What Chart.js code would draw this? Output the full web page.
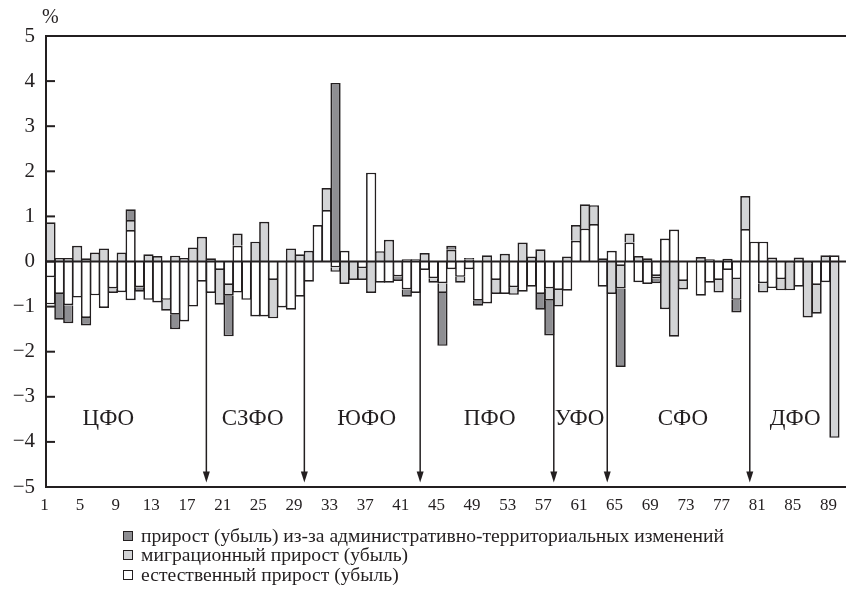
<!DOCTYPE html>
<html lang="ru">
<head>
<meta charset="utf-8">
<script src="https://cdn.jsdelivr.net/npm/chart.js@4.4.0/dist/chart.umd.min.js"></script>
<style>
    html, body { margin: 0; padding: 0; background: #fff; }
    #wrap { position: relative; width: 848px; height: 597px; }
    #chart { position: absolute; left: 0; top: 0; }
    #legend {
        position: absolute; left: 123px; top: 526px;
        font-family: "Liberation Serif", "DejaVu Serif", serif;
        font-size: 19.6px; color: #231f20;
    }
    .row { display: flex; align-items: center; height: 19.5px; white-space: nowrap; }
    .box { width: 8px; height: 8px; border: 1.5px solid #231f20; margin-right: 8px; flex: none; }
</style>
</head>
<body>
<div id="wrap">
    <canvas id="chart" width="848" height="597"></canvas>
    <div id="legend"></div>
</div>
<script>
// ---------- данные (оценены по рисунку) ----------

// номера субъектов РФ
const regions = [
    1, 2, 3, 4, 5, 6, 7, 8, 9, 10, 11, 12, 13, 14, 15, 16, 17, 18, 19, 20,
    21, 22, 23, 24, 25, 26, 27, 28, 29, 30, 31, 32, 33, 34, 35, 36, 37, 38, 39, 40,
    41, 42, 43, 44, 45, 46, 47, 48, 49, 50, 51, 52, 53, 54, 55, 56, 57, 58, 59, 60,
    61, 62, 63, 64, 65, 66, 67, 68, 69, 70, 71, 72, 73, 74, 75, 76, 77, 78, 79, 80,
    81, 82, 83, 84, 85, 86, 87, 88, 89
];
const xTicks = [1, 5, 9, 13, 17, 21, 25, 29, 33, 37, 41, 45, 49, 53, 57, 61, 65, 69, 73, 77, 81, 85, 89];
const yTicks = [-5, -4, -3, -2, -1, 0, 1, 2, 3, 4, 5];

// естественный прирост (убыль), %
const natural = [
    -0.35, -0.72, -0.97, -0.80, -1.25, -0.75, -1.03, -0.60, -0.68, 0.70,
    -0.57, -0.85, -0.91, -0.85, -1.18, -1.33, -1.00, -0.45, -0.70, -0.19,
    -0.52, 0.35, -0.85, -1.22, -1.22, -0.41, -1.02, -1.07, -0.78, -0.45,
    0.81, 1.14, -0.13, 0.24, 0, -0.15, 1.97, -0.47, -0.47, -0.33,
    -0.62, -0.70, -0.19, -0.37, -0.48, -0.17, -0.34, -0.17, -0.87, -0.93,
    -0.41, -0.72, -0.57, -0.67, -0.56, -0.72, -0.60, -0.63, -0.65, 0.46,
    0.73, 0.83, -0.56, 0.24, -0.10, 0.42, -0.46, -0.50, -0.32, 0.51,
    0.71, -0.43, 0, -0.76, -0.47, -0.41, -0.19, -0.39, 0.72, 0.44,
    0.44, -0.59, -0.39, -0.04, -0.56, -0.04, -0.52, -0.46, 0.14
];
// второй белый отрезок (там, где белый столбик есть по обе стороны от нуля)
const naturalExtra = [
    -0.60, 0, 0, 0, 0, 0, 0, 0, 0, -0.86,
    0, 0, 0, 0, 0, 0, 0, 0, 0, 0,
    0, -0.69, 0, 0, 0, 0, 0, 0, 0, 0,
    0, 0, 0, 0, 0, 0, 0, 0, 0, 0,
    0, 0, 0, 0, 0, 0, 0, 0, 0, 0,
    0, 0, 0, 0, 0, 0, 0, 0, 0, 0,
    0, 0, 0, 0, 0, 0, 0, 0, 0, 0,
    0, 0, 0, 0, 0, 0, 0, 0, 0, 0,
    -0.48, 0, 0, 0, 0, 0, 0, 0, 0
];
// миграционный прирост (убыль), %
const migration = [
    0.87, 0.08, 0.08, 0.35, 0.07, 0.20, 0.29, -0.10, 0.20, 0.22,
    0, 0.16, 0.12, -0.24, 0.13, 0.08, 0.31, 0.55, 0.07, -0.77,
    -0.24, 0.27, 0, 0.44, 0.88, -0.85, 0, 0.29, 0.16, 0.24,
    0, 0.49, -0.10, -0.50, -0.41, -0.26, -0.70, 0.23, 0.48, 0,
    0.05, 0.05, 0.19, -0.10, -0.22, 0.26, -0.13, 0.04, 0, 0.14,
    -0.31, 0.17, -0.17, 0.42, 0.11, 0.27, -0.27, -0.37, 0.11, 0.35,
    0.54, 0.42, 0.07, -0.72, -0.50, 0.20, 0.12, 0.07, -0.05, -1.06,
    -1.67, -0.19, 0, 0.10, 0.05, -0.28, 0.06, -0.46, 0.73, 0,
    -0.21, 0.09, -0.25, -0.60, 0.09, -1.20, -0.64, 0.14, -3.91
];
// прирост (убыль) из-за административно-территориальных изменений, %
const admin = [
    0, -0.57, -0.40, 0, -0.17, 0, 0, 0, 0, 0.24,
    -0.10, 0, 0, 0, -0.32, 0, 0, 0, 0, 0,
    -0.90, 0, 0, 0, 0, 0, 0, 0, 0, 0,
    0, 0, 3.96, 0, 0, 0, 0, 0, 0, -0.10,
    -0.16, 0, 0, 0, -1.17, 0.09, 0, 0.04, -0.11, 0,
    0, 0, 0, 0, 0, -0.35, -0.77, 0, 0, 0,
    0, 0, 0, 0, -1.74, 0, 0, 0, -0.11, 0,
    0, 0, 0, 0, 0, 0, 0, -0.28, 0, 0,
    0, 0, 0, 0, 0, 0, 0, 0, 0
];

// федеральные округа: последний номер субъекта и место подписи
const districtNames = ["ЦФО", "СЗФО", "ЮФО", "ПФО", "УФО", "СФО", "ДФО"];
const districtLabelX = [7.5, 23.7, 36.5, 50.3, 60.4, 72.0, 84.6];
const districtLabelY = -3.5;
const districtEnds = [18, 29, 42, 57, 63, 79];
const arrowTip = -4.9;

const legendLabels = [
    "прирост (убыль) из-за административно-территориальных изменений",
    "миграционный прирост (убыль)",
    "естественный прирост (убыль)"
];

// ---------- оформление ----------

const ink = "#231f20";
const darkFill = "#8e8e92";
const lightFill = "#d3d4d6";
const serif = '"Liberation Serif", "DejaVu Serif", serif';

function toPoints(arr) {
    return arr.map((v, i) => ({ x: regions[i], y: v }));
}

function barSet(label, arr, fill) {
    return {
        label,
        data: toPoints(arr),
        backgroundColor: fill,
        borderColor: ink,
        borderWidth: 1.7,
        categoryPercentage: 1,
        barPercentage: 1.15,
    };
}

const overlay = {
    id: "overlay",
    afterDatasetsDraw(chart) {
        const { ctx, chartArea: ca, scales } = chart;
        const x = scales.x, y = scales.y;
        ctx.save();
        ctx.strokeStyle = ink;
        ctx.fillStyle = ink;

        // нулевая линия
        const y0 = y.getPixelForValue(0);
        ctx.lineWidth = 2;
        ctx.beginPath();
        ctx.moveTo(ca.left, y0);
        ctx.lineTo(ca.right, y0);
        ctx.stroke();

        // рамка: верх, левая ось, низ
        ctx.beginPath();
        ctx.moveTo(ca.right, ca.top);
        ctx.lineTo(ca.left, ca.top);
        ctx.lineTo(ca.left, ca.bottom);
        ctx.lineTo(ca.right, ca.bottom);
        ctx.stroke();

        // короткие засечки внутрь
        yTicks.forEach((v) => {
            const py = y.getPixelForValue(v);
            ctx.beginPath();
            ctx.moveTo(ca.left, py);
            ctx.lineTo(ca.left + 9, py);
            ctx.stroke();
        });

        // стрелки-границы округов
        ctx.lineWidth = 1.5;
        districtEnds.forEach((e) => {
            const px = x.getPixelForValue(e + 0.5);
            const pTip = y.getPixelForValue(arrowTip);
            ctx.beginPath();
            ctx.moveTo(px, y0);
            ctx.lineTo(px, pTip - 8);
            ctx.stroke();
            ctx.beginPath();
            ctx.moveTo(px - 3.5, pTip - 11);
            ctx.lineTo(px + 3.5, pTip - 11);
            ctx.lineTo(px, pTip);
            ctx.closePath();
            ctx.fill();
        });

        // подписи округов
        ctx.font = "23px " + serif;
        ctx.textAlign = "center";
        ctx.textBaseline = "middle";
        districtNames.forEach((name, i) => {
            ctx.fillText(name, x.getPixelForValue(districtLabelX[i]), y.getPixelForValue(districtLabelY));
        });

        // единица измерения
        ctx.font = "20px " + serif;
        ctx.textAlign = "left";
        ctx.fillText("%", ca.left - 4, ca.top - 18);
        ctx.restore();
    },
};

new Chart(document.getElementById("chart"), {
    type: "bar",
    data: {
        datasets: [
            barSet(legendLabels[2], natural, "#ffffff"),
            barSet(legendLabels[2], naturalExtra, "#ffffff"),
            barSet(legendLabels[1], migration, lightFill),
            barSet(legendLabels[0], admin, darkFill),
        ],
    },
    options: {
        responsive: false,
        animation: false,
        devicePixelRatio: 1,
        layout: { padding: { top: 36, right: 2, left: 0, bottom: 0 } },
        plugins: { legend: { display: false }, tooltip: { enabled: false } },
        scales: {
            x: {
                type: "linear",
                stacked: true,
                offset: false,
                min: 0.5,
                max: 90.3,
                grid: { display: false, drawTicks: false },
                border: { display: false },
                afterBuildTicks: (s) => { s.ticks = xTicks.map((v) => ({ value: v })); },
                afterFit: (s) => {
                    s.height = 110;
                    s.paddingLeft = 0;
                    s.paddingRight = 0;
                },
                ticks: {
                    autoSkip: false,
                    maxRotation: 0,
                    padding: 8,
                    labelOffset: -6,
                    color: ink,
                    font: { family: serif, size: 17 },
                },
            },
            y: {
                stacked: true,
                min: -5,
                max: 5,
                grid: { display: false, drawTicks: false },
                border: { display: false },
                afterBuildTicks: (s) => { s.ticks = yTicks.map((v) => ({ value: v })); },
                afterFit: (s) => { s.width = 46; },
                ticks: {
                    padding: 11,
                    color: ink,
                    font: { family: serif, size: 21 },
                    callback: (v) => (v < 0 ? "\u2212" + Math.abs(v) : String(v)),
                },
            },
        },
    },
    plugins: [overlay],
});

// легенда снизу
const legendFills = [darkFill, lightFill, "#ffffff"];
const legendBox = document.getElementById("legend");
legendLabels.forEach((text, i) => {
    const row = document.createElement("div");
    row.className = "row";
    const box = document.createElement("span");
    box.className = "box";
    box.style.background = legendFills[i];
    const label = document.createElement("span");
    label.textContent = text;
    row.appendChild(box);
    row.appendChild(label);
    legendBox.appendChild(row);
});
</script>
</body>
</html>
